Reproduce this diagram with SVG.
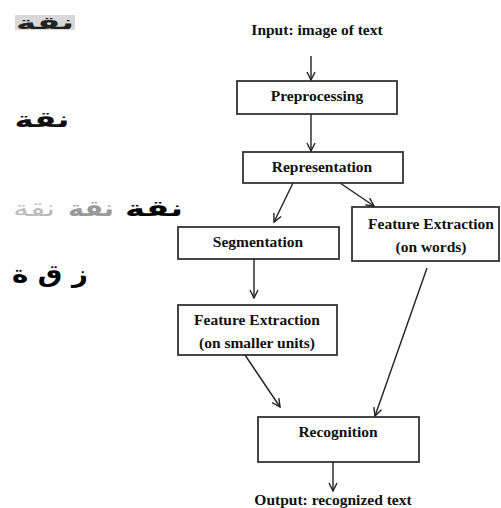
<svg xmlns="http://www.w3.org/2000/svg" width="501" height="508" viewBox="0 0 501 508">
<defs>
<marker id="arr" viewBox="0 0 10 10" refX="9" refY="5" markerWidth="10" markerHeight="10" markerUnits="userSpaceOnUse" orient="auto">
<path d="M1,1 L9,5 L1,9" fill="none" stroke="#222" stroke-width="1.4"/>
</marker>
</defs>
<style>
.box{fill:#fff;stroke:#333;stroke-width:1.8}
.t{font-family:"Liberation Serif","Times New Roman",serif;font-size:15.5px;font-weight:bold;fill:#111;text-anchor:middle}
.c{stroke:#222;stroke-width:1.4;fill:none;marker-end:url(#arr)}
.ar{font-family:"DejaVu Sans",sans-serif;font-weight:bold;font-size:22px;direction:rtl;text-anchor:middle}
</style>
<rect width="501" height="508" fill="#fff"/>
<g id="arabic">
<rect x="15" y="15" width="60" height="15" fill="#d8d8d8"/>
<text class="ar" x="45" y="29" fill="#222" style="font-size:18px" textLength="58" lengthAdjust="spacingAndGlyphs">نقة</text>
<text class="ar" x="42" y="127" fill="#111" textLength="55" lengthAdjust="spacingAndGlyphs">نقة</text>
<text class="ar" x="34" y="216" fill="#bbb" style="font-weight:normal" textLength="42" lengthAdjust="spacingAndGlyphs">نقة</text>
<text class="ar" x="91" y="216" fill="#999" textLength="46" lengthAdjust="spacingAndGlyphs">نقة</text>
<text class="ar" x="154" y="216" fill="#000" textLength="58" lengthAdjust="spacingAndGlyphs">نقة</text>
<text class="ar" x="50" y="282" fill="#000" style="font-size:24px" textLength="76" lengthAdjust="spacingAndGlyphs">ز ق ة</text>
</g>
<g id="input"><text class="t" x="317" y="35">Input: image of text</text></g>
<g id="preprocessing">
<rect class="box" x="237" y="81" width="160" height="33"/>
<text class="t" x="317" y="101">Preprocessing</text>
</g>
<g id="representation">
<rect class="box" x="243" y="152" width="160" height="31"/>
<text class="t" x="322" y="172">Representation</text>
</g>
<g id="segmentation">
<rect class="box" x="178" y="227" width="161" height="32"/>
<text class="t" x="258" y="247">Segmentation</text>
</g>
<g id="fe-words">
<rect class="box" x="352" y="207" width="147" height="54"/>
<text class="t" x="431" y="229">Feature Extraction</text>
<text class="t" x="431" y="252">(on words)</text>
</g>
<g id="fe-units">
<rect class="box" x="178" y="305" width="159" height="50"/>
<text class="t" x="257" y="325">Feature Extraction</text>
<text class="t" x="257" y="348">(on smaller units)</text>
</g>
<g id="recognition">
<rect class="box" x="258" y="417" width="161" height="45"/>
<text class="t" x="338" y="437">Recognition</text>
</g>
<g id="output"><text class="t" x="333" y="505">Output: recognized text</text></g>
<g id="connectors">
<line class="c" x1="311" y1="56" x2="311" y2="80"/>
<line class="c" x1="311" y1="114" x2="311" y2="151"/>
<line class="c" x1="293" y1="183" x2="274" y2="222"/>
<line class="c" x1="340" y1="183" x2="374" y2="206"/>
<line class="c" x1="254" y1="259" x2="254" y2="298"/>
<line class="c" x1="245" y1="355" x2="280" y2="407"/>
<line class="c" x1="427" y1="268" x2="375" y2="416"/>
<line class="c" x1="333" y1="462" x2="333" y2="491"/>
</g>
</svg>
